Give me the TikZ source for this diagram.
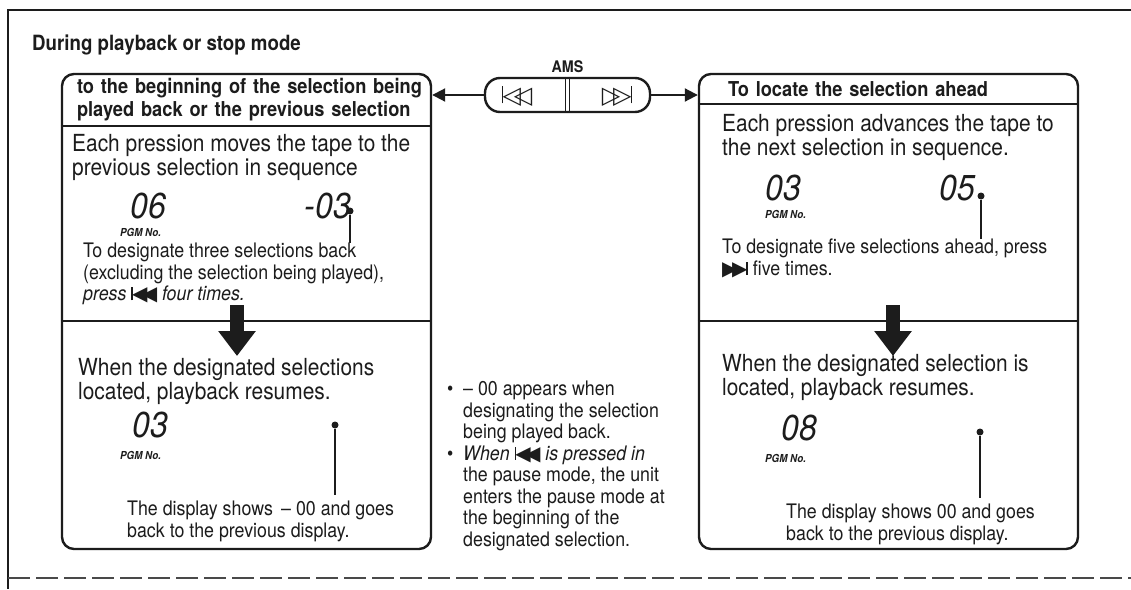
\documentclass[tikz,border=0pt]{standalone}
\usepackage{fontspec}
\setmainfont{TeX Gyre Heros}[FakeStretch=0.89]
\newfontfamily\symfont{DejaVu Sans}
\usepackage{tikz}
\usetikzlibrary{positioning, arrows.meta, calc}
\definecolor{ink}{HTML}{1C1C1C}
\definecolor{paper}{HTML}{FFFFFF}
\newcommand{\skipback}{{\symfont\rule[0.02em]{0.09em}{0.66em}\kern-0.06em◀\kern-0.28em◀}}
\newcommand{\skipfwd}{{\symfont▶\kern-0.28em▶\kern-0.06em\rule[0.02em]{0.09em}{0.66em}}}
\newcommand{\keyback}{{\symfont\rule[0.0em]{0.07em}{0.74em}\kern-0.04em◁\kern-0.3em◁}}
\newcommand{\keyfwd}{{\symfont▷\kern-0.3em▷\kern-0.04em\rule[0.0em]{0.07em}{0.74em}}}
\tikzset{
  frame/.style={draw=ink, line width=1.8pt},
  panel/.style={
    draw=ink,
    line width=2.4pt,
    rounded corners=12pt,
    inner sep=0pt
  },
  panel rule/.style={draw=ink, line width=2pt},
  title text/.style={font=\fontsize{21}{24}\selectfont\bfseries, text=ink, inner sep=0pt},
  head text/.style={font=\fontsize{20.5}{22.5}\selectfont\bfseries, text=ink, align=left, inner sep=0pt},
  body text/.style={font=\fontsize{23.5}{24}\selectfont, text=ink, align=left, inner sep=0pt},
  note text/.style={font=\fontsize{20}{21.5}\selectfont, text=ink, align=left, inner sep=0pt},
  lcd/.style={font=\fontsize{36}{36}\selectfont\itshape, text=ink, inner sep=0pt},
  pgm/.style={font=\fontsize{11}{11}\selectfont\bfseries\itshape, text=ink, inner sep=0pt, anchor=west},
  leader/.style={draw=ink, line width=2pt},
  leader dot/.style={circle, fill=ink, inner sep=0pt, minimum size=7pt},
  down arrow/.style={draw=ink, line width=14pt, -{Triangle[length=25pt, width=36pt]}},
  ams key/.style={draw=ink, line width=2.4pt, rounded corners=15pt, inner sep=0pt},
  key rule/.style={draw=ink, line width=1.4pt},
  key icon/.style={font=\fontsize{24}{24}\selectfont, text=ink, inner sep=0pt},
  ams arrow/.style={draw=ink, line width=2pt, -{Triangle[length=13pt, width=13pt]}}
}

\begin{document}
\begin{tikzpicture}[x=1pt, y=-1pt]
  \fill[paper] (0,0) rectangle (1131,589);
  \useasboundingbox (0,0) rectangle (1131,589);

  % page frame
  \draw[frame] (1131,10) -- (8,10) -- (8,589);
  \draw[frame, ink!80, dashed, dash pattern=on 22pt off 6pt] (8,578) -- (1131,578);

  \node[title text, anchor=base west] (title) at (32,50) {During playback or stop mode};

  % AMS key
  \node[ams key, minimum width=165pt, minimum height=34pt] (ams) at (567.5,95) {};
  \node[font=\fontsize{16}{16}\selectfont\bfseries, text=ink, inner sep=0pt, above=4pt of ams] (amslabel) {AMS};
  \draw[key rule] ([xshift=-2pt]ams.north) -- ([xshift=-2pt]ams.south);
  \draw[key rule] ([xshift=2pt]ams.north) -- ([xshift=2pt]ams.south);
  \node[key icon] (keyprev) at (517,96) {\keyback};
  \node[key icon] (keynext) at (617,96) {\keyfwd};

  % left panel
  \node[panel, minimum width=369pt, minimum height=475pt] (lbox) at (246.5,311.5) {};
  \node[head text, anchor=north west, minimum height=53pt, text width=350pt] (lhead)
    at ([xshift=16pt]lbox.north west) {to the beginning of the selection being\\played back or the previous selection};
  \draw[panel rule] (lbox.west |- lhead.south) -- (lbox.east |- lhead.south);
  \coordinate (lsplit) at (237,321);
  \draw[panel rule] (lbox.west |- lsplit) -- (lbox.east |- lsplit);

  \node[body text, anchor=north west] (lbody) at (72,134)
    {Each pression moves the tape to the\\previous selection in sequence};
  \node[lcd] (lfrom) at (148,206) {06};
  \node[pgm] (lfrompgm) at (120,232) {PGM No.};
  \node[lcd] (lto) at (328,206) {-03};
  \node[leader dot] (ldot) at (350,211) {};
  \node[note text, anchor=north west] (lnote) at (83,243)
    {To designate three selections back\\(excluding the selection being played),\\\textit{press} \skipback\ \textit{four times.}};
  \draw[leader] (ldot) -- (ldot |- lnote.north);
  \draw[down arrow] ([yshift=16pt]lsplit) -- ([yshift=-35pt]lsplit);

  \node[body text, anchor=north west] (lresume) at (78,358.5)
    {When the designated selections\\located, playback resumes.};
  \node[lcd] (lnow) at (150,425) {03};
  \node[pgm] (lnowpgm) at (120,455) {PGM No.};
  \node[note text, anchor=north west] (lshow) at (127,501)
    {The display shows \,– 00 and goes\\back to the previous display.};
  \node[leader dot] (ldot2) at (335,425) {};
  \draw[leader] (ldot2) -- ([yshift=6pt]ldot2 |- lshow.north);

  % notes between the panels
  \node[note text, anchor=north west] (tips) at (447,381)
    {\makebox[16pt][l]{•}– 00 appears when\\
     \hspace*{16pt}designating the selection\\
     \hspace*{16pt}being played back.\\
     \makebox[16pt][l]{•}\textit{When} \skipback\ \textit{is pressed in}\\
     \hspace*{16pt}the pause mode, the unit\\
     \hspace*{16pt}enters the pause mode at\\
     \hspace*{16pt}the beginning of the\\
     \hspace*{16pt}designated selection.};

  % right panel
  \node[panel, minimum width=379pt, minimum height=475pt] (rbox) at (888.5,311.5) {};
  \node[head text, anchor=north west, minimum height=31pt, text width=350pt] (rhead)
    at ([xshift=30pt]rbox.north west) {To locate the selection ahead};
  \draw[panel rule] (rbox.west |- rhead.south) -- (rbox.east |- rhead.south);
  \coordinate (rsplit) at (893,321);
  \draw[panel rule] (rbox.west |- rsplit) -- (rbox.east |- rsplit);

  \node[body text, anchor=north west] (rbody) at (722,114)
    {Each pression advances the tape to\\the next selection in sequence.};
  \node[lcd] (rfrom) at (783,188) {03};
  \node[pgm] (rfrompgm) at (765,214) {PGM No.};
  \node[lcd] (rto) at (957,188) {05};
  \node[leader dot] (rdot) at (981,196) {};
  \node[note text, anchor=north west] (rnote) at (722,239)
    {To designate five selections ahead, press\\\skipfwd\ five times.};
  \draw[leader] (rdot) -- (rdot |- rnote.north);
  \draw[down arrow] ([yshift=16pt]rsplit) -- ([yshift=-35pt]rsplit);

  \node[body text, anchor=north west] (rresume) at (722,354.5)
    {When the designated selection is\\located, playback resumes.};
  \node[lcd] (rnow) at (799,428) {08};
  \node[pgm] (rnowpgm) at (765,458) {PGM No.};
  \node[note text, anchor=north west] (rshow) at (786,504)
    {The display shows 00 and goes\\back to the previous display.};
  \node[leader dot] (rdot2) at (980,432) {};
  \draw[leader] (rdot2) -- ([yshift=6pt]rdot2 |- rshow.north);

  % AMS connectors
  \draw[ams arrow] (ams.west) -- (ams.west -| lbox.east);
  \draw[ams arrow] (ams.east) -- (ams.east -| rbox.west);
\end{tikzpicture}
\end{document}
